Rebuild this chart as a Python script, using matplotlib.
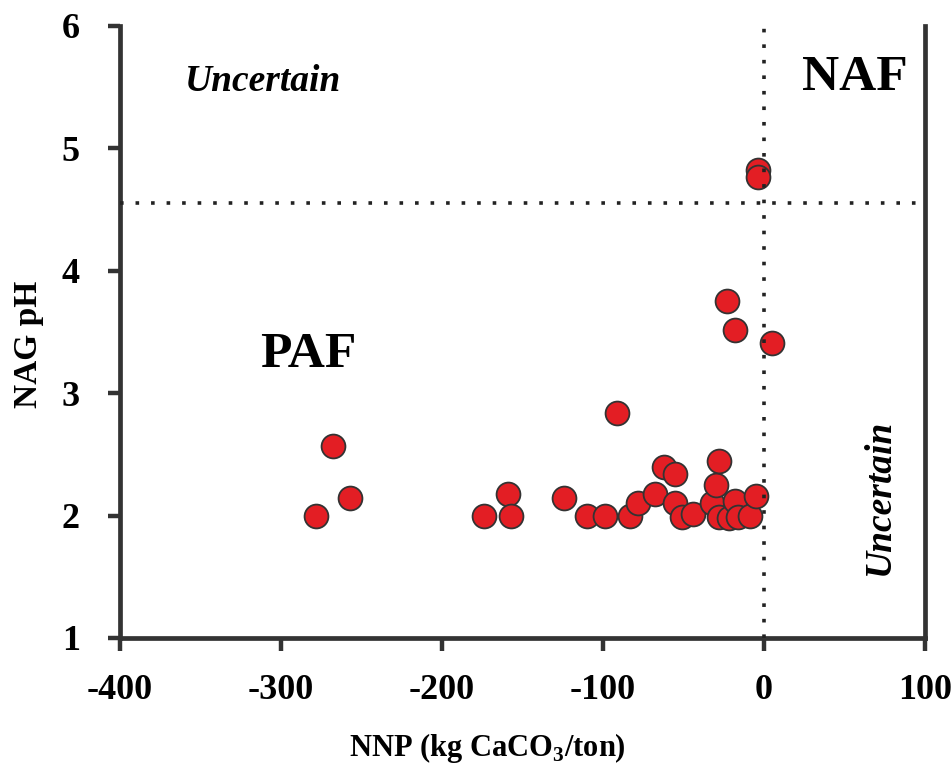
import matplotlib
matplotlib.use("Agg")
import matplotlib.pyplot as plt

# Data
nnp = [-278, -268, -257, -174, -159, -157, -124, -110, -99, -91, -83, -78,
       -68, -62, -55, -55, -51, -44, -32, -30, -28, -28, -23, -22, -18, -16,
       -18, -9, -5, -3.5, -3.5, 5]
nag_ph = [2.0, 2.57, 2.14, 2.0, 2.18, 2.0, 2.14, 2.0, 2.0, 2.84, 2.0, 2.1,
          2.18, 2.4, 2.34, 2.1, 1.99, 2.01, 2.1, 2.25, 2.45, 1.99, 3.75, 1.98,
          2.12, 1.99, 3.52, 2.0, 2.16, 4.82, 4.77, 3.41]

nnp_threshold = 0
ph_threshold = 4.55
x_ticks = [-400, -300, -200, -100, 0, 100]
y_ticks = [1, 2, 3, 4, 5, 6]

serif = ["Liberation Serif", "DejaVu Serif"]
plt.rcParams["font.family"] = serif
plt.rcParams["mathtext.fontset"] = "custom"
plt.rcParams["mathtext.rm"] = "Liberation Serif:bold"
plt.rcParams["mathtext.bf"] = "Liberation Serif:bold"

fig = plt.figure(figsize=(9.53, 7.74), dpi=100)
ax = fig.add_axes([120 / 953, 1 - 638 / 774, 805 / 953, 612 / 774])

spine_col = "#333333"
ax.scatter(nnp, nag_ph, s=295, color="#e31e24", edgecolor="#333333",
           linewidth=1.3, zorder=3)

dot_style = (0, (1, 3.3))
ax.axvline(nnp_threshold, color="#222222", lw=2.6, linestyle=dot_style, zorder=4)
ax.axhline(ph_threshold, color="#222222", lw=2.6, linestyle=dot_style, zorder=4)

ax.set_xlim(-400, 100)
ax.set_ylim(1, 6)
ax.set_xticks(x_ticks)
ax.set_yticks(y_ticks)
ax.set_xticklabels([str(v) for v in x_ticks])
ax.set_yticklabels([str(v) for v in y_ticks])

for side in ["left", "bottom", "right"]:
    ax.spines[side].set_linewidth(3.4)
    ax.spines[side].set_color(spine_col)
ax.spines["top"].set_visible(False)

ax.tick_params(axis="both", direction="out", length=9, width=3.2,
               color=spine_col, labelsize=26)
ax.tick_params(axis="x", pad=17)
ax.tick_params(axis="y", pad=20, right=False)
for lab in ax.get_xticklabels() + ax.get_yticklabels():
    lab.set_fontweight("bold")

ax.set_xlabel(r"NNP (kg CaCO$_{3}$/ton)", fontsize=22, fontweight="bold",
              va="center")
ax.xaxis.set_label_coords(0.456, -0.18)
ax.set_ylabel("NAG pH", fontsize=24, fontweight="bold", va="center")
ax.yaxis.set_label_coords(-0.114, 0.48)

ax.text(-311, 5.55, "Uncertain", fontsize=27, fontweight="bold",
        fontstyle="italic", ha="center", va="center")
ax.text(56.5, 5.575, "NAF", fontsize=37, fontweight="bold",
        ha="center", va="center")
ax.text(-283, 3.31, "PAF", fontsize=37, fontweight="bold",
        ha="center", va="center")
ax.text(71.4, 2.15, "Uncertain", fontsize=27, fontweight="bold",
        fontstyle="italic", ha="center", va="center", rotation=90)

fig.savefig("out.png", dpi=100)
